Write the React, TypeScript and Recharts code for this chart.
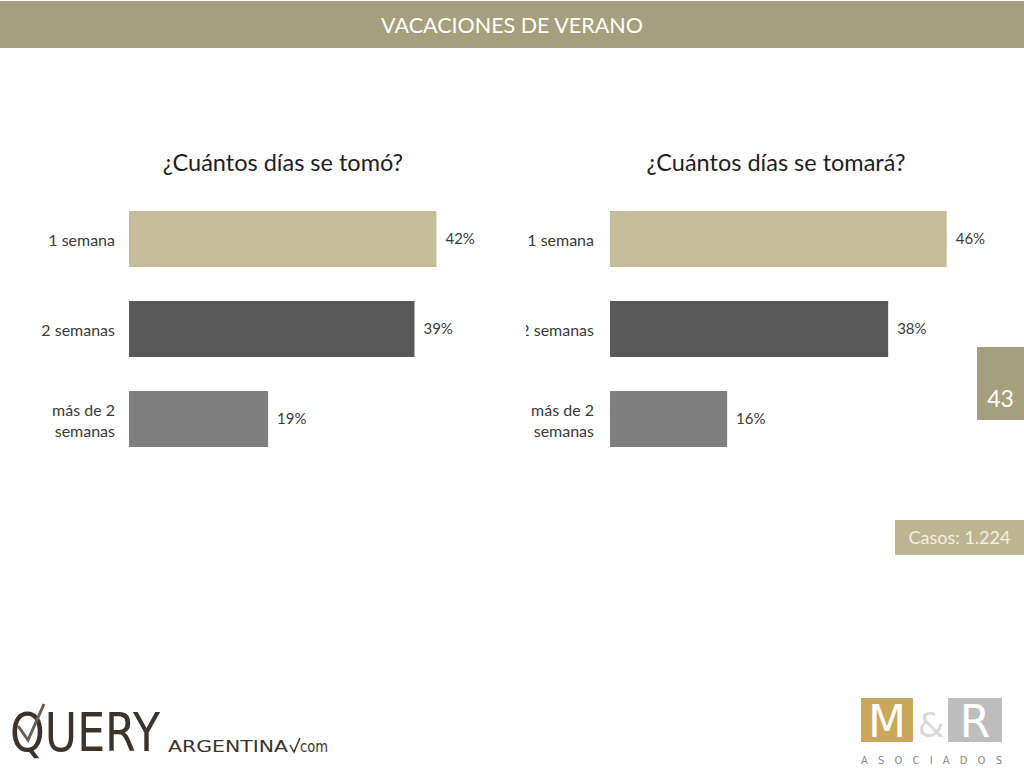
import React from 'react';
import { BarChart, Bar, XAxis, YAxis, Cell, LabelList } from 'recharts';

const categories = ['1 semana', '2 semanas', 'más de 2\nsemanas'];
const tomoValues = [42, 39, 19];
const tomaraValues = [46, 38, 16];
const barColors = ['#C5BD98', '#595959', '#7F7F7F'];

const pageTitle = 'VACACIONES DE VERANO';
const chartTitles = ['¿Cuántos días se tomó?', '¿Cuántos días se tomará?'];
const pageNumber = '43';
const casesLabel = 'Casos: 1.224';

const tomoData = categories.map((c, i) => ({ name: c, value: tomoValues[i] }));
const tomaraData = categories.map((c, i) => ({ name: c, value: tomaraValues[i] }));

const FONT = 'Lato, "Open Sans", sans-serif';

const CatTick = (props: any) => {
  const { x, y, payload } = props;
  const lines = String(payload.value).split('\n');
  const lh = 21;
  const start = y - ((lines.length - 1) * lh) / 2;
  return (
    <text x={x} y={start} textAnchor="end" dominantBaseline="central" fill="#3A3A3A" fontSize={16} fontFamily={FONT}>
      {lines.map((l, i) => (
        <tspan key={i} x={x} y={start + i * lh} dominantBaseline="central">{l}</tspan>
      ))}
    </text>
  );
};

const Chart = ({ data, yWidth, width, gap }: { data: any[]; yWidth: number; width: number; gap: number }) => (
  <BarChart
    width={width}
    height={270}
    data={data}
    layout="vertical"
    margin={{ top: 0, right: width - yWidth - 366, bottom: 0, left: 0 }}
  >
    <XAxis type="number" domain={[0, 50]} hide />
    <YAxis
      type="category"
      dataKey="name"
      width={yWidth}
      axisLine={false}
      tickLine={false}
      tickSize={0}
      tickMargin={gap}
      tick={<CatTick />}
      interval={0}
    />
    <Bar dataKey="value" barSize={56} isAnimationActive={false}>
      {data.map((d, i) => (
        <Cell key={i} fill={barColors[i]} />
      ))}
      <LabelList
        dataKey="value"
        position="right"
        offset={9}
        formatter={(v: any) => `${v}%`}
        fill="#3A3A3A"
        fontSize={15}
        fontFamily={FONT}
      />
    </Bar>
  </BarChart>
);

export default function App() {
  return (
    <div style={{ position: 'absolute', left: 0, top: 0, width: 1024, height: 768, background: '#fff', overflow: 'hidden', fontFamily: FONT }}>
      <svg width={1024} height={768} style={{ position: 'absolute', left: 0, top: 0 }}>
        <rect x={0} y={1} width={1024} height={47} fill="#A69F7E" />
        <text x={512} y={33} textAnchor="middle" fill="#fff" fontSize={21.5} fontFamily={FONT}>{pageTitle}</text>
        <text x={283} y={171} textAnchor="middle" fill="#1E1E1E" fontSize={23.5} fontFamily={FONT}>{chartTitles[0]}</text>
        <text x={776} y={171} textAnchor="middle" fill="#1E1E1E" fontSize={23.5} fontFamily={FONT}>{chartTitles[1]}</text>
        {/* QUERY ARGENTINA logo */}
        <g fill="#3D332B" fontFamily='"DejaVu Sans", sans-serif'>
          <text x={10} y={751} fontSize={53} textLength={150} lengthAdjust="spacingAndGlyphs">QUERY</text>
          <text x={168} y={752} fontSize={15} textLength={120} lengthAdjust="spacingAndGlyphs">ARGENTINA</text>
          <text x={300} y={752} fontSize={15} textLength={28} lengthAdjust="spacingAndGlyphs">com</text>
          <path d="M290 745 L294 752 L300 738" stroke="#3D332B" strokeWidth={1.5} fill="none" />
          <path d="M18 726 L28 740 L44 704" stroke="#6B5E52" strokeWidth={3} fill="none" />
        </g>
        {/* M&R logo */}
        <rect x={861} y={698} width={52} height={44} fill="#C9A75C" />
        <text x={887} y={737} textAnchor="middle" fill="#fff" fontSize={44} fontFamily='"DejaVu Sans", sans-serif'>M</text>
        <text x={931} y={737} textAnchor="middle" fill="#D9D9D9" fontSize={34} fontFamily='"DejaVu Sans", sans-serif'>&amp;</text>
        <rect x={948} y={698} width={54} height={44} fill="#BDBDBD" />
        <text x={975} y={737} textAnchor="middle" fill="#fff" fontSize={44} fontFamily='"DejaVu Sans", sans-serif'>R</text>
        <text x={861} y={764} fill="#8A8A8A" fontSize={10} fontFamily='"DejaVu Sans", sans-serif' textLength={141}>ASOCIADOS</text>
      </svg>

      <div style={{ position: 'absolute', left: 0, top: 194, width: 500, height: 270 }}>
        <Chart data={tomoData} yWidth={129} width={500} gap={14} />
      </div>
      <div style={{ position: 'absolute', left: 526, top: 194, width: 480, height: 270, overflow: 'hidden' }}>
        <Chart data={tomaraData} yWidth={84} width={480} gap={16} />
      </div>

      <div style={{ position: 'absolute', left: 977, top: 347, width: 47, height: 73, background: '#A69F7E' }}>
        <span style={{ position: 'absolute', top: 38, left: 0, width: 47, textAlign: 'center', lineHeight: '26px', color: '#fff', fontSize: 23 }}>{pageNumber}</span>
      </div>
      <div style={{ position: 'absolute', left: 895, top: 520, width: 129, height: 35, background: '#BDB491', color: '#F4F0E2', fontSize: 18, lineHeight: '35px', textAlign: 'center' }}>
        {casesLabel}
      </div>
    </div>
  );
}
